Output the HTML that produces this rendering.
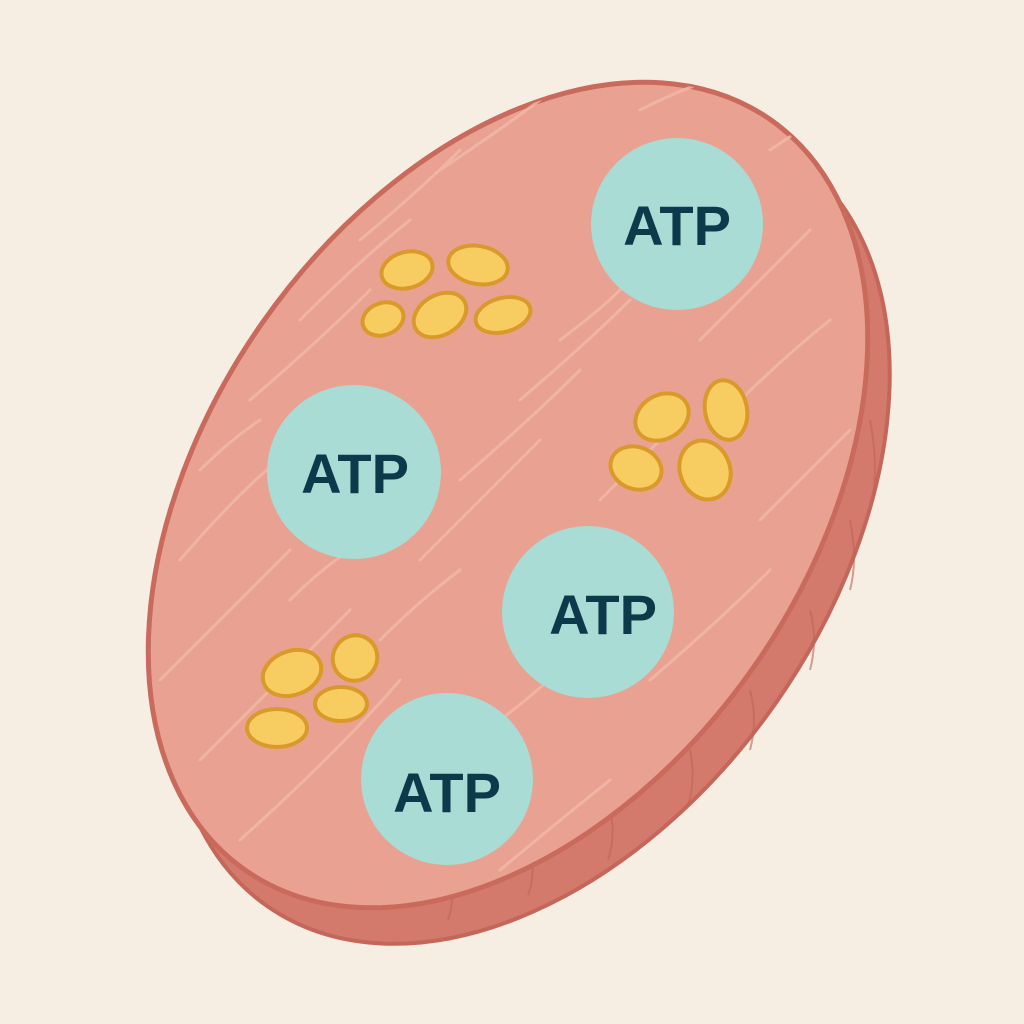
<!DOCTYPE html>
<html><head><meta charset="utf-8"><style>
html,body{margin:0;padding:0;background:#f6eee2;width:1024px;height:1024px;overflow:hidden;}
svg{display:block}
</style></head><body>
<svg width="1024" height="1024" viewBox="0 0 1024 1024" xmlns="http://www.w3.org/2000/svg">
<rect width="1024" height="1024" fill="#f6eee2"/>
<defs>
<clipPath id="top"><ellipse cx="508" cy="495" rx="458" ry="300" transform="rotate(-55 508 495)"/></clipPath>
</defs>
<ellipse cx="530" cy="531" rx="458" ry="300" transform="rotate(-55 530 531)" fill="#d47a6c" stroke="#c4675a" stroke-width="4"/>
<g stroke="#bf6457" stroke-width="2" fill="none" opacity="0.6">
<path d="M870 420 q8 40 3 80"/><path d="M850 520 q8 40 0 70"/><path d="M810 610 q8 30 0 60"/><path d="M750 690 q8 30 0 60"/><path d="M690 750 q6 30 -2 55"/><path d="M610 810 q6 25 -2 50"/><path d="M530 850 q6 25 -2 45"/><path d="M450 880 q5 20 -2 40"/>
</g>
<ellipse cx="508" cy="495" rx="458" ry="300" transform="rotate(-55 508 495)" fill="#e9a292" stroke="#c96a5d" stroke-width="5"/>
<g clip-path="url(#top)" stroke="#f2b9a8" stroke-width="3" fill="none" opacity="0.8" stroke-linecap="round">
<path d="M180 560 q60 -70 110 -110"/><path d="M160 680 q80 -80 130 -130"/><path d="M200 760 q90 -90 150 -150"/><path d="M240 840 q100 -90 160 -160"/>
<path d="M250 400 q70 -60 120 -110"/><path d="M300 320 q60 -60 110 -100"/><path d="M360 240 q60 -50 100 -90"/><path d="M440 170 q60 -40 100 -70"/>
<path d="M420 560 q70 -70 120 -120"/><path d="M460 480 q70 -60 120 -110"/><path d="M520 400 q70 -60 110 -100"/><path d="M560 340 q40 -30 60 -50"/>
<path d="M700 340 q60 -60 110 -110"/><path d="M720 420 q60 -60 110 -100"/><path d="M760 520 q50 -50 90 -90"/><path d="M650 680 q70 -60 120 -110"/>
<path d="M200 470 q30 -30 60 -50"/><path d="M500 870 q60 -50 110 -90"/><path d="M640 110 q40 -20 70 -30"/><path d="M770 150 q30 -20 60 -40"/>
<path d="M380 640 q40 -40 80 -70"/><path d="M500 720 q40 -30 70 -60"/><path d="M600 500 q40 -40 70 -70"/><path d="M290 600 q30 -30 60 -50"/>
</g>
<g fill="#f7cd62" stroke="#d99a2a" stroke-width="4">
<ellipse cx="407" cy="270" rx="26" ry="18" transform="rotate(-15 407 270)"/>
<ellipse cx="478" cy="265" rx="30" ry="19" transform="rotate(10 478 265)"/>
<ellipse cx="440" cy="315" rx="28" ry="20" transform="rotate(-30 440 315)"/>
<ellipse cx="383" cy="319" rx="21" ry="16" transform="rotate(-20 383 319)"/>
<ellipse cx="503" cy="315" rx="28" ry="17" transform="rotate(-15 503 315)"/>
<ellipse cx="662" cy="417" rx="28" ry="22" transform="rotate(-30 662 417)"/>
<ellipse cx="726" cy="410" rx="21" ry="30" transform="rotate(-10 726 410)"/>
<ellipse cx="636" cy="468" rx="26" ry="21" transform="rotate(20 636 468)"/>
<ellipse cx="705" cy="470" rx="25" ry="30" transform="rotate(-20 705 470)"/>
<ellipse cx="292" cy="673" rx="30" ry="22" transform="rotate(-20 292 673)"/>
<ellipse cx="355" cy="658" rx="22" ry="23" transform="rotate(30 355 658)"/>
<ellipse cx="341" cy="704" rx="26" ry="17"/>
<ellipse cx="277" cy="728" rx="30" ry="19"/>
</g>
<g fill="#a8dcd4">
<circle cx="677" cy="224" r="86"/><circle cx="354" cy="472" r="87"/><circle cx="588" cy="612" r="86"/><circle cx="447" cy="779" r="86"/>
</g>
<g fill="#0d3a4a" font-family="Liberation Sans, sans-serif" font-weight="bold" font-size="56" text-anchor="middle">
<text x="677" y="245">ATP</text><text x="355" y="493">ATP</text><text x="603" y="634">ATP</text><text x="447" y="812">ATP</text>
</g>
</svg>
</body></html>
